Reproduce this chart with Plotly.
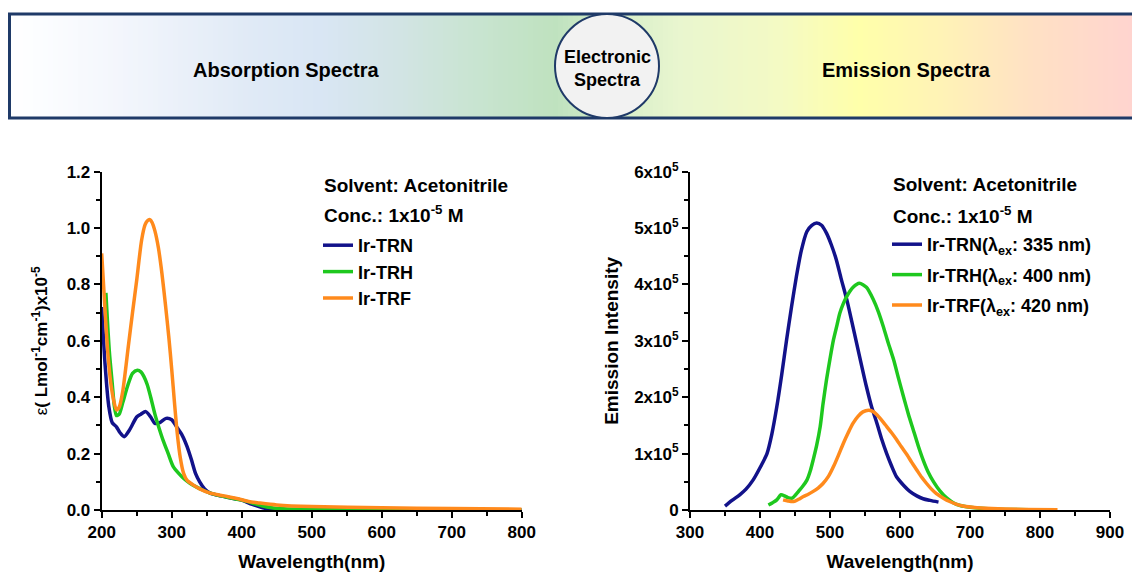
import plotly.graph_objects as go

# ---------------- data ----------------
# Absorption spectra (epsilon x 10^-5, L mol^-1 cm^-1)
abs_trn_wl = [200, 205, 210, 215, 221, 226, 232, 240, 250, 256, 263, 270, 276, 283, 292, 300, 307, 315, 322,
              328, 334, 340, 347, 355, 370, 390, 400, 415, 430, 440, 450, 500, 600, 700, 800]
abs_trn = [0.72, 0.51, 0.37, 0.31, 0.295, 0.275, 0.26, 0.285, 0.33, 0.34, 0.349, 0.33, 0.307, 0.31, 0.325,
           0.32, 0.295, 0.265, 0.225, 0.18, 0.13, 0.10, 0.075, 0.06, 0.05, 0.04, 0.035, 0.02, 0.008, 0.003,
           0.001, 0.0, 0.0, 0.0, 0.0]

abs_trh_wl = [206, 208, 211, 215, 218, 221, 225, 230, 237, 244, 251, 256, 260, 265, 270, 276, 282, 288, 295,
              302, 310, 318, 326, 335, 345, 355, 370, 390, 400, 415, 430, 445, 460, 500, 600, 700, 800]
abs_trh = [0.77, 0.68, 0.56, 0.45, 0.37, 0.335, 0.34, 0.38, 0.44, 0.485, 0.496, 0.49, 0.475, 0.445, 0.40,
           0.34, 0.29, 0.245, 0.20, 0.155, 0.13, 0.11, 0.095, 0.082, 0.07, 0.06, 0.05, 0.04, 0.035, 0.025,
           0.014, 0.007, 0.004, 0.002, 0.001, 0.0, 0.0]

abs_trf_wl = [200, 205, 209, 213, 217, 221, 225, 230, 238, 244, 250, 257, 262, 265, 269, 272, 276, 281, 286,
              291, 296, 300, 304, 308, 312, 317, 322, 330, 340, 355, 375, 395, 410, 425, 450, 500, 600, 700, 800]
abs_trf = [0.91, 0.70, 0.55, 0.45, 0.39, 0.355, 0.365, 0.42, 0.58, 0.70, 0.815, 0.957, 1.012, 1.025, 1.03,
           1.02, 0.99, 0.93, 0.84, 0.73, 0.61, 0.50, 0.38, 0.27, 0.19, 0.13, 0.105, 0.09, 0.075, 0.06, 0.05,
           0.04, 0.03, 0.025, 0.018, 0.012, 0.008, 0.005, 0.003]

# Emission spectra (intensity x 10^5)
em_trn_wl = [350, 360, 371, 380, 390, 400, 410, 417, 424, 431, 438, 445, 452, 459, 467, 474, 481, 488, 495,
             502, 509, 516, 524, 531, 538, 545, 552, 559, 567, 574, 581, 588, 595, 605, 614, 624, 633, 643, 655]
em_trn = [0.07, 0.17, 0.27, 0.37, 0.53, 0.75, 1.0, 1.35, 1.83, 2.4, 3.02, 3.6, 4.14, 4.6, 4.94, 5.05, 5.09,
          5.05, 4.91, 4.7, 4.44, 4.1, 3.73, 3.35, 2.96, 2.57, 2.19, 1.85, 1.54, 1.25, 1.0, 0.78, 0.59, 0.44,
          0.33, 0.25, 0.2, 0.17, 0.14]

em_trh_wl = [412, 418, 424, 430, 435, 440, 446, 451, 455, 461, 467, 472, 476, 481, 486, 490, 495, 500, 505,
             510, 514, 519, 524, 533, 542, 552, 562, 569, 576, 583, 591, 598, 605, 612, 619, 626, 633, 640,
             648, 657, 667, 676, 686, 700, 720, 750, 785]
em_trh = [0.09, 0.13, 0.18, 0.27, 0.25, 0.22, 0.21, 0.27, 0.33, 0.42, 0.53, 0.70, 0.89, 1.15, 1.48, 1.88,
          2.31, 2.68, 3.02, 3.28, 3.49, 3.66, 3.79, 3.95, 4.02, 3.95, 3.73, 3.52, 3.26, 2.97, 2.66, 2.33,
          2.01, 1.70, 1.42, 1.14, 0.89, 0.68, 0.50, 0.34, 0.21, 0.13, 0.08, 0.05, 0.025, 0.01, 0.005]

em_trf_wl = [433, 440, 448, 455, 462, 469, 476, 483, 490, 498, 505, 512, 519, 526, 533, 540, 547, 555, 561,
             567, 574, 581, 588, 595, 602, 610, 617, 624, 631, 638, 645, 652, 662, 671, 681, 690, 710, 740,
             780, 825]
em_trf = [0.18, 0.16, 0.15, 0.19, 0.24, 0.28, 0.33, 0.39, 0.47, 0.60, 0.77, 0.97, 1.18, 1.37, 1.54, 1.66,
          1.74, 1.77, 1.75, 1.69, 1.59, 1.48, 1.37, 1.25, 1.12, 0.98, 0.84, 0.71, 0.58, 0.47, 0.37, 0.29,
          0.21, 0.15, 0.10, 0.07, 0.04, 0.02, 0.01, 0.005]

abs_names = ["Ir-TRN", "Ir-TRH", "Ir-TRF"]
em_names = ["Ir-TRN(λ<sub>ex</sub>: 335 nm)", "Ir-TRH(λ<sub>ex</sub>: 400 nm)", "Ir-TRF(λ<sub>ex</sub>: 420 nm)"]

abs_xticks = [200, 300, 400, 500, 600, 700, 800]
em_xticks = [300, 400, 500, 600, 700, 800, 900]
em_yticks = [0, 1, 2, 3, 4, 5, 6]
em_yticklabels = ["0", "1x10<sup>5</sup>", "2x10<sup>5</sup>", "3x10<sup>5</sup>", "4x10<sup>5</sup>",
                  "5x10<sup>5</sup>", "6x10<sup>5</sup>"]

# ---------------- style ----------------
# The page places the figure 8px from the top-left corner, so the figure is
# sized to fill the rest of the window and positions are given in window pixels.
OFF = 8
W, H = 1140 - OFF, 572 - OFF
FONT = "Liberation Sans, Arial, Helvetica, sans-serif"
NAVY = "#12128a"
GREEN = "#1ec81e"
ORANGE = "#ff8a1c"
BORDER = "#1f3a68"
colors = [NAVY, GREEN, ORANGE]


def px(x):
    return (x - OFF) / W


def py(y):
    return 1 - (y - OFF) / H


fig = go.Figure()

for i, (name, xs, ys, c) in enumerate(zip(abs_names, [abs_trn_wl, abs_trh_wl, abs_trf_wl],
                                          [abs_trn, abs_trh, abs_trf], colors)):
    fig.add_trace(go.Scatter(x=xs, y=ys, mode="lines", name=name,
                             line=dict(color=c, width=3.5, shape="spline", smoothing=0.7),
                             xaxis="x", yaxis="y", legend="legend"))

for i, (name, xs, ys, c) in enumerate(zip(em_names, [em_trn_wl, em_trh_wl, em_trf_wl],
                                          [em_trn, em_trh, em_trf], colors)):
    fig.add_trace(go.Scatter(x=xs, y=ys, mode="lines", name=name, legendgroup="g%d" % i,
                             line=dict(color=c, width=3.5, shape="spline", smoothing=0.7),
                             xaxis="x2", yaxis="y2", legend="legend2"))

tickfont = dict(family=FONT, size=17, color="black", weight="bold")
titlefont = dict(family=FONT, size=19, color="black", weight="bold")
common = dict(showline=True, linewidth=2, linecolor="black", ticks="outside", ticklen=6, tickwidth=2,
              tickcolor="black", showgrid=False, zeroline=False, tickfont=tickfont, automargin=False)
minor = dict(ticks="outside", ticklen=4, tickwidth=1.5, tickcolor="black", showgrid=False)

ydom = [py(510), py(171.7)]

fig.update_layout(
    width=W, height=H,
    margin=dict(l=0, r=0, t=0, b=0, pad=0),
    paper_bgcolor="white", plot_bgcolor="white",
    font=dict(family=FONT, color="black"),
    xaxis=dict(domain=[px(101.7), px(521.7)], range=[200, 800], tickvals=abs_xticks,
               minor=dict(dtick=50, **minor), anchor="y",
               title=dict(text="Wavelength(nm)", font=titlefont, standoff=13), **common),
    yaxis=dict(domain=ydom, range=[0, 1.2], dtick=0.2, tickformat=".1f",
               minor=dict(dtick=0.1, **minor), anchor="x",
               title=dict(text='<span style="font-weight:normal">ε</span>( Lmol<sup>-1</sup>cm<sup>-1</sup>)x10<sup>-5</sup>',
                          font=dict(family=FONT, size=17, color="black", weight="bold"), standoff=15),
               **common),
    xaxis2=dict(domain=[px(690), px(1110)], range=[300, 900], tickvals=em_xticks,
                minor=dict(dtick=50, **minor), anchor="y2",
                title=dict(text="Wavelength(nm)", font=titlefont, standoff=13), **common),
    yaxis2=dict(domain=ydom, range=[0, 6], tickvals=em_yticks, ticktext=em_yticklabels,
                minor=dict(dtick=0.5, **minor), anchor="x2",
                title=dict(text="Emission Intensity", font=titlefont, standoff=10), **common),
    legend=dict(x=px(318), y=py(227), xanchor="left", yanchor="top", bgcolor="rgba(0,0,0,0)",
                font=dict(family=FONT, size=18, color="black", weight="bold"), tracegroupgap=0,
                itemwidth=30),
    legend2=dict(x=px(887), y=py(226), xanchor="left", yanchor="top", bgcolor="rgba(0,0,0,0)",
                 font=dict(family=FONT, size=18, color="black", weight="bold"), tracegroupgap=4,
                 itemwidth=30),
    showlegend=True,
)

# ---------------- banner ----------------
stops = [(3, (255, 255, 255)), (40, (252, 253, 255)), (120, (243, 246, 252)), (250, (224, 234, 246)),
         (320, (217, 230, 244)), (400, (210, 228, 228)), (470, (201, 228, 210)), (555, (191, 226, 191)),
         (610, (212, 237, 200)), (680, (233, 246, 207)), (780, (244, 250, 196)), (860, (255, 255, 170)),
         (940, (255, 243, 182)), (1030, (255, 225, 196)), (1140, (255, 211, 208))]


def color_at(x):
    for (x0, c0), (x1, c1) in zip(stops[:-1], stops[1:]):
        if x0 <= x <= x1:
            t = (x - x0) / (x1 - x0)
            return "rgb(%d,%d,%d)" % tuple(round(a + (b - a) * t) for a, b in zip(c0, c1))
    return "rgb(%d,%d,%d)" % stops[-1][1]


shapes = []
step = 5
x = 8
while x < 1142:
    shapes.append(dict(type="rect", xref="paper", yref="paper", x0=px(x), x1=px(min(x + step + 0.6, 1142)),
                       y0=py(118), y1=py(14), fillcolor=color_at(x + step / 2), line=dict(width=0),
                       layer="below"))
    x += step
shapes.append(dict(type="rect", xref="paper", yref="paper", x0=px(9.5), x1=px(1145), y0=py(118), y1=py(14),
                   fillcolor="rgba(0,0,0,0)", line=dict(color=BORDER, width=3), layer="above"))
shapes.append(dict(type="circle", xref="paper", yref="paper", x0=px(555), x1=px(659), y0=py(118), y1=py(14),
                   fillcolor="#f2f2f2", line=dict(color=BORDER, width=2), layer="above"))
fig.update_layout(shapes=shapes)

bold19 = dict(family=FONT, size=19, color="black", weight="bold")
bold18 = dict(family=FONT, size=18, color="black", weight="bold")
ann = [
    dict(text="Absorption Spectra", x=px(286), y=py(70), font=dict(family=FONT, size=20, color="black", weight="bold")),
    dict(text="Emission Spectra", x=px(906), y=py(70), font=dict(family=FONT, size=20, color="black", weight="bold")),
    dict(text="Electronic", x=px(607), y=py(57), font=bold18),
    dict(text="Spectra", x=px(607), y=py(80), font=bold18),
    dict(text="Solvent: Acetonitrile", x=px(322), y=py(185), xanchor="left", font=bold19),
    dict(text="Conc.: 1x10<sup>-5</sup> M", x=px(322), y=py(214), xanchor="left", font=bold19),
    dict(text="Solvent: Acetonitrile", x=px(891), y=py(184), xanchor="left", font=bold19),
    dict(text="Conc.: 1x10<sup>-5</sup> M", x=px(891), y=py(215), xanchor="left", font=bold19),
]
for a in ann:
    a.setdefault("xanchor", "center")
    fig.add_annotation(xref="paper", yref="paper", yanchor="middle", showarrow=False, **a)

fig.write_html("out.html")
